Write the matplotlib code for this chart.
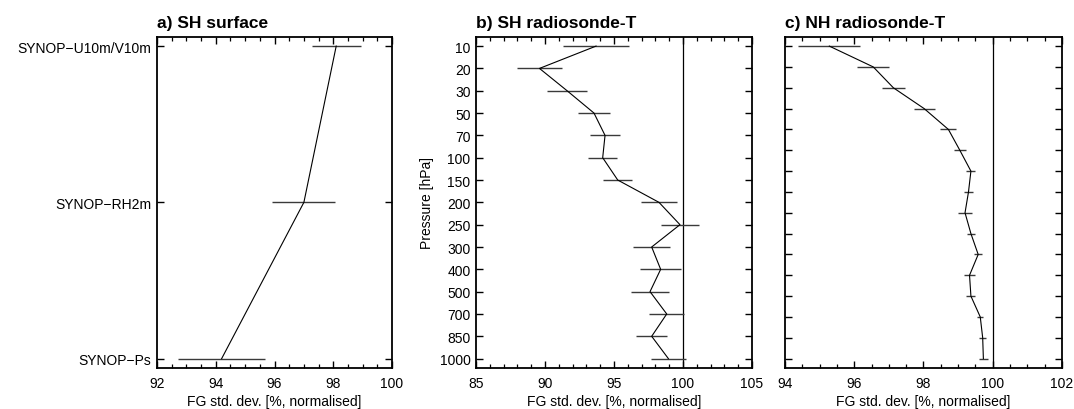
import matplotlib
matplotlib.use("Agg")
import matplotlib.pyplot as plt
from matplotlib.ticker import MultipleLocator

plt.rcParams['font.family'] = ['Liberation Sans', 'DejaVu Sans']

# ---- data ----
sfc_labels = ["SYNOP\u2212Ps", "SYNOP\u2212RH2m", "SYNOP\u2212U10m/V10m"]
sfc_mean = [94.2, 97.0, 98.1]
sfc_err = [1.49, 1.07, 0.83]

sh_levels = ["10", "20", "30", "50", "70", "100", "150", "200", "250",
             "300", "400", "500", "700", "850", "1000"]
sh_mean = [93.7, 89.6, 91.6, 93.55, 94.35, 94.18, 95.27, 98.26, 99.78,
           97.73, 98.38, 97.61, 98.82, 97.73, 98.94]
sh_err = [2.4, 1.65, 1.45, 1.18, 1.09, 1.03, 1.05, 1.33, 1.41,
          1.36, 1.49, 1.39, 1.27, 1.12, 1.27]

nh_levels = ["10", "20", "30", "50", "70", "100", "150", "200", "250",
             "300", "400", "500", "700", "850", "925", "1000"]
nh_mean = [95.28, 96.55, 97.13, 98.02, 98.72, 99.05, 99.37, 99.3, 99.2,
           99.37, 99.58, 99.33, 99.37, 99.64, 99.71, 99.73]
nh_err = [0.89, 0.46, 0.34, 0.3, 0.23, 0.17, 0.13, 0.14, 0.21,
          0.11, 0.12, 0.15, 0.13, 0.08, 0.1, 0.12]

xlabel = "FG std. dev. [%, normalised]"

fig = plt.figure(figsize=(10.74, 4.10), dpi=100)
bottom, height = 0.100, 0.808
axa = fig.add_axes([0.1462, bottom, 0.2188, height])
axb = fig.add_axes([0.4432, bottom, 0.2570, height])
axc = fig.add_axes([0.7309, bottom, 0.2579, height])

LW = 0.8
ECOL = '#3a3a3a'


def style(ax, major, minor):
    ax.xaxis.set_major_locator(MultipleLocator(major))
    ax.xaxis.set_minor_locator(MultipleLocator(minor))
    ax.tick_params(axis='x', which='major', direction='in', top=True, bottom=True,
                   length=5, width=1.0, labelsize=10, pad=6)
    ax.tick_params(axis='x', which='minor', direction='in', top=True, bottom=True,
                   length=3, width=0.9)
    ax.tick_params(axis='y', which='major', direction='in', left=True, right=True,
                   length=5, width=1.0, labelsize=10, pad=4)
    ax.tick_params(axis='y', which='minor', left=False, right=False)
    for s in ax.spines.values():
        s.set_linewidth(1.3)
    ax.set_xlabel(xlabel, fontsize=10, labelpad=3)


# panel a
ya = list(range(len(sfc_labels)))
axa.errorbar(sfc_mean, ya, xerr=sfc_err, fmt='-', color='k', lw=LW,
             ecolor=ECOL, elinewidth=1.0, capsize=0)
axa.set_xlim(92, 100)
axa.set_ylim(-0.06, 2.06)
axa.set_yticks(ya)
axa.set_yticklabels(sfc_labels)
style(axa, 2, 0.5)
axa.set_title("a) SH surface", loc='left', fontsize=12.5, fontweight='bold', pad=7)

# panel b
yb = list(range(len(sh_levels)))
axb.axvline(100, color='k', lw=0.9)
axb.errorbar(sh_mean, yb, xerr=sh_err, fmt='-', color='k', lw=LW,
             ecolor=ECOL, elinewidth=1.0, capsize=0)
axb.set_xlim(85, 105)
axb.set_ylim(len(sh_levels) - 1 + 0.42, -0.42)
axb.set_yticks(yb)
axb.set_yticklabels(sh_levels)
style(axb, 5, 1)
axb.set_ylabel("Pressure [hPa]", fontsize=10, labelpad=4)
axb.set_title("b) SH radiosonde-T", loc='left', fontsize=12.5, fontweight='bold', pad=7)

# panel c
yc = list(range(len(nh_levels)))
axc.axvline(100, color='k', lw=0.9)
axc.errorbar(nh_mean, yc, xerr=nh_err, fmt='-', color='k', lw=LW,
             ecolor=ECOL, elinewidth=1.0, capsize=0)
axc.set_xlim(94, 102)
axc.set_ylim(len(nh_levels) - 1 + 0.45, -0.45)
axc.set_yticks(yc)
axc.set_yticklabels([])
style(axc, 2, 0.5)
axc.set_title("c) NH radiosonde-T", loc='left', fontsize=12.5, fontweight='bold', pad=7)

fig.savefig("out.png", dpi=100)
